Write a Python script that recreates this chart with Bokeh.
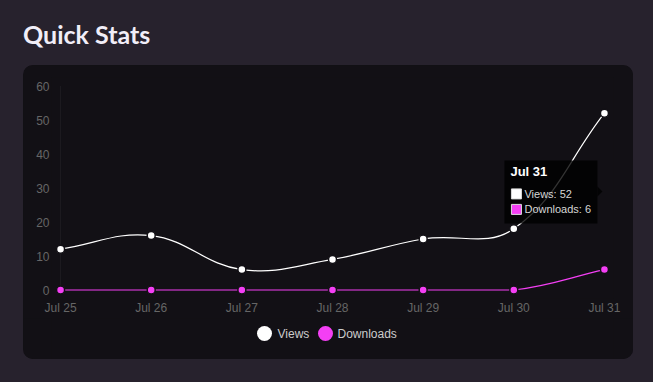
import math
from bokeh.plotting import figure
from bokeh.models import ColumnDataSource, FixedTicker, Div, GlobalInlineStyleSheet
from bokeh.layouts import column
from bokeh.embed import file_html
from bokeh.resources import INLINE
from bokeh.core.properties import value

# ---------------- data ----------------
dates = ["Jul 25", "Jul 26", "Jul 27", "Jul 28", "Jul 29", "Jul 30", "Jul 31"]
views = [12, 16, 6, 9, 15, 18, 52]
downloads = [0, 0, 0, 0, 0, 0, 6]
y_ticks = [0, 10, 20, 30, 40, 50, 60]
series_names = ["Views", "Downloads"]
series_colors = ["#ffffff", "#f43ff4"]
tooltip_index = 6
title_text = "Quick Stats"

# ---------------- style ----------------
PAGE_BG = "#27222d"
CARD_BG = "#121015"
TICK_COLOR = "#666666"
FONT = "Liberation Sans"
CARD_W = 610
BORDER_L = 28

X0, X1 = -0.1, len(dates) - 1 + 0.1
Y0, Y1 = y_ticks[0] - 2.5, y_ticks[-1] + 2.5
FW, FH = 562, 221
BORDER_R = CARD_W - BORDER_L - FW
ppx = FW / (X1 - X0)
ppy = FH / (Y1 - Y0)
TENSION = 0.4

# legend strip layout (pixels from the card's left edge / strip bottom)
LEG_MARKER_X = [241, 302]
LEG_TEXT_X = [254, 314]
LEG_Y = 26
LEG_MARKER_SIZE = 15


def spline_segments(xs, ys):
    """Chart.js-like tension spline -> bezier segments (data coords)."""
    n = len(xs)
    px = [x * ppx for x in xs]
    py = [y * ppy for y in ys]
    prev_cp, next_cp = [], []
    for i in range(n):
        a, c = max(i - 1, 0), min(i + 1, n - 1)
        d01 = math.hypot(px[i] - px[a], py[i] - py[a])
        d12 = math.hypot(px[c] - px[i], py[c] - py[i])
        tot = d01 + d12
        s01 = d01 / tot if tot else 0.0
        s12 = d12 / tot if tot else 0.0
        fa, fb = TENSION * s01, TENSION * s12
        dx, dy = px[c] - px[a], py[c] - py[a]
        prev_cp.append((px[i] - fa * dx, py[i] - fa * dy))
        next_cp.append((px[i] + fb * dx, py[i] + fb * dy))

    def cap(pt):
        x = min(max(pt[0] / ppx, xs[0]), xs[-1])
        y = min(max(pt[1] / ppy, y_ticks[0]), y_ticks[-1])
        return x, y

    seg = dict(x0=[], y0=[], x1=[], y1=[], cx0=[], cy0=[], cx1=[], cy1=[])
    for i in range(n - 1):
        c0 = cap(next_cp[i])
        c1 = cap(prev_cp[i + 1])
        seg["x0"].append(xs[i]); seg["y0"].append(ys[i])
        seg["x1"].append(xs[i + 1]); seg["y1"].append(ys[i + 1])
        seg["cx0"].append(c0[0]); seg["cy0"].append(c0[1])
        seg["cx1"].append(c1[0]); seg["cy1"].append(c1[1])
    return seg


xs = list(range(len(dates)))

# ---------------- main chart ----------------
p = figure(frame_width=FW, frame_height=FH,
           min_border_left=BORDER_L, min_border_right=BORDER_R,
           min_border_top=12, min_border_bottom=20,
           x_range=(X0, X1), y_range=(Y0, Y1),
           output_backend="svg", toolbar_location=None,
           background_fill_color=CARD_BG, border_fill_color=CARD_BG,
           outline_line_color=None, margin=0)
p.grid.visible = False

# faint y-axis border line
p.segment(x0=[xs[0]], y0=[y_ticks[0]], x1=[xs[0]], y1=[y_ticks[-1]],
          line_color="#1d1b21", line_width=1)

for name, vals, col in zip(series_names, [views, downloads], series_colors):
    seg = spline_segments(xs, vals)
    p.bezier(source=ColumnDataSource(seg), x0="x0", y0="y0", x1="x1", y1="y1",
             cx0="cx0", cy0="cy0", cx1="cx1", cy1="cy1",
             line_color=col, line_width=1.2)
    p.scatter(xs, vals, size=8, fill_color=col, line_color=CARD_BG, line_width=1.5)

# axes
p.xaxis.ticker = FixedTicker(ticks=xs)
p.xaxis.major_label_overrides = {i: d for i, d in enumerate(dates)}
p.yaxis.ticker = FixedTicker(ticks=y_ticks)
for ax in (p.xaxis, p.yaxis):
    ax.axis_line_color = None
    ax.major_tick_line_color = None
    ax.minor_tick_line_color = None
    ax.major_tick_out = 0
    ax.major_tick_in = 0
    ax.minor_tick_out = 0
    ax.major_label_text_color = TICK_COLOR
    ax.major_label_text_font = FONT
    ax.major_label_text_font_size = "12px"
    ax.major_label_standoff = 2

# static tooltip at the hovered date
ti = tooltip_index
ax_ = xs[ti]
ay_ = (views[ti] + downloads[ti]) / 2.0
p.quad(left=[ax_ - 100 / ppx], right=[ax_ - 7 / ppx],
       top=[ay_ + 31 / ppy], bottom=[ay_ - 32 / ppy],
       fill_color="#000000", fill_alpha=0.8, line_color=None)
p.patch([ax_ - 7 / ppx, ax_ - 2 / ppx, ax_ - 7 / ppx],
        [ay_ + 5 / ppy, ay_, ay_ - 5 / ppy],
        fill_color="#000000", fill_alpha=0.8, line_color=None)
p.text(x=[ax_ - 94 / ppx], y=[ay_ + 19.5 / ppy], text=[dates[ti]],
       text_color="#ffffff", text_font=value(FONT), text_font_style="bold",
       text_font_size="13px", text_baseline="middle", text_align="left")
body = [f"{series_names[0]}: {views[ti]}", f"{series_names[1]}: {downloads[ti]}"]
for k, (txt, col) in enumerate(zip(body, series_colors)):
    dy = -2.5 - 15.5 * k
    p.rect(x=[ax_ - 88 / ppx], y=[ay_ + dy / ppy], width=10, height=10,
           width_units="screen", height_units="screen",
           fill_color=col, line_color="#dddddd", line_width=1)
    p.text(x=[ax_ - 80 / ppx], y=[ay_ + dy / ppy], text=[txt],
           text_color="#d6d6d6", text_font=value(FONT),
           text_font_size="11px", text_baseline="middle", text_align="left")

# ---------------- legend strip (frame aligned with the chart frame) ----------------
LEG_H = 294 - (12 + FH + 20)
pl = figure(frame_width=FW, frame_height=LEG_H,
            min_border_left=BORDER_L, min_border_right=BORDER_R,
            min_border_top=0, min_border_bottom=0,
            x_range=(0, FW), y_range=(0, LEG_H),
            x_axis_type=None, y_axis_type=None,
            output_backend="svg", toolbar_location=None,
            background_fill_color=CARD_BG, border_fill_color=CARD_BG,
            outline_line_color=None, margin=0)
pl.grid.visible = False
pl.scatter([x - BORDER_L for x in LEG_MARKER_X], [LEG_Y] * len(LEG_MARKER_X),
           size=LEG_MARKER_SIZE, fill_color=series_colors, line_color=None)
pl.text(x=[x - BORDER_L for x in LEG_TEXT_X], y=[LEG_Y] * len(LEG_TEXT_X),
        text=series_names, text_color="#cccccc", text_font=value(FONT),
        text_font_size="12px", text_baseline="middle", text_align="left")

# ---------------- page ----------------
title = Div(text=title_text, width=300, height=30, margin=(19, 0, 0, 23),
            styles={"font-family": "Lato", "font-weight": "bold",
                    "font-size": "25px", "line-height": "30px",
                    "color": "#f1eef8"})

card = column(p, pl, spacing=0, margin=(16, 0, 0, 23),
              styles={"background-color": CARD_BG, "border-radius": "10px",
                      "overflow": "hidden"})

page_css = GlobalInlineStyleSheet(
    css=f"html, body {{ background-color: {PAGE_BG}; }}")
layout = column(title, card, spacing=0, margin=0, stylesheets=[page_css])

open("out.html", "w").write(file_html(layout, INLINE))
